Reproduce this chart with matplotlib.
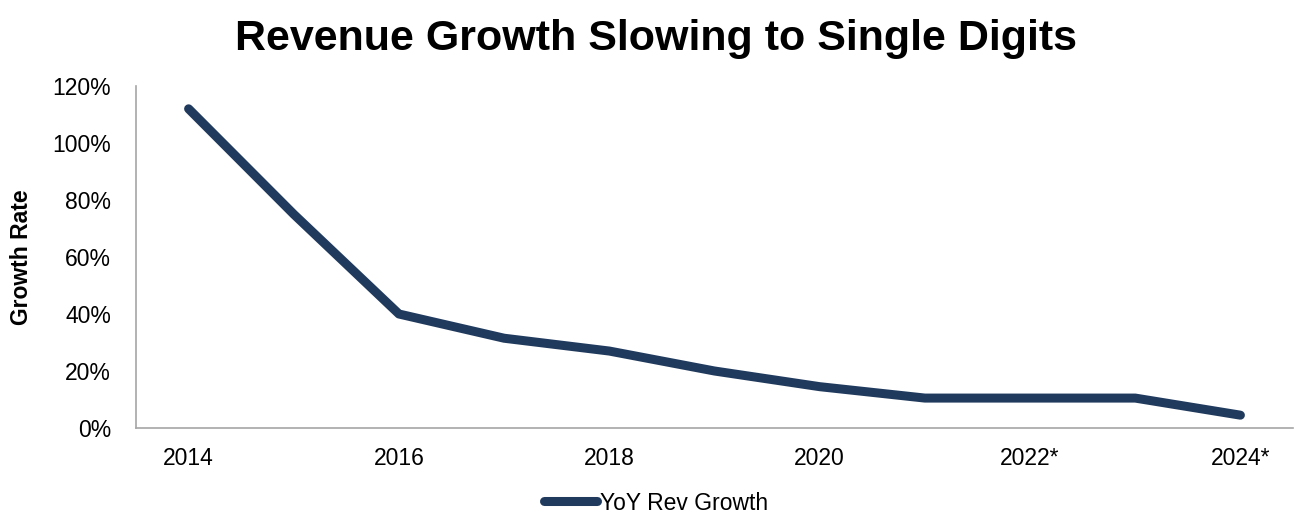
import matplotlib
matplotlib.use('Agg')
import matplotlib.pyplot as plt
from matplotlib.ticker import PercentFormatter

plt.rcParams['font.family'] = ['Liberation Sans', 'DejaVu Sans']

years = ['2014', '2015', '2016', '2017', '2018', '2019', '2020', '2021', '2022*', '2023*', '2024*']
growth = [1.12, 0.75, 0.40, 0.315, 0.27, 0.20, 0.145, 0.105, 0.105, 0.105, 0.045]
line_color = '#203a5e'

fig = plt.figure(figsize=(12.94, 5.12), dpi=100)
ax = fig.add_axes([136 / 1294, 1 - 428 / 512, (1293 - 136) / 1294, (428 - 86) / 512])

x = list(range(len(years)))
line, = ax.plot(x, growth, color=line_color, linewidth=6.5, solid_capstyle='round',
                solid_joinstyle='round', label='YoY Rev Growth')

ax.set_xlim(-0.5, len(years) - 0.5)
ax.set_ylim(0, 1.2)
ax.set_yticks([0, 0.2, 0.4, 0.6, 0.8, 1.0, 1.2])
ax.yaxis.set_major_formatter(PercentFormatter(1.0, decimals=0))
ax.set_xticks(x[::2])
ax.set_xticklabels(years[::2])
ax.tick_params(length=0, labelsize=16.5)
ax.tick_params(axis='y', pad=18)
ax.tick_params(axis='x', pad=14)

for s in ['top', 'right']:
    ax.spines[s].set_visible(False)
for s in ['left', 'bottom']:
    ax.spines[s].set_color('#a6a6a6')
    ax.spines[s].set_linewidth(1.2)

fig.text(22 / 1294, 1 - 257 / 512, 'Growth Rate', rotation=90, ha='center', va='center',
         fontsize=16.5, fontweight='bold')
fig.text(656 / 1294, 1 - 39 / 512, 'Revenue Growth Slowing to Single Digits', ha='center',
         va='center', fontsize=31, fontweight='bold')

fig.legend(handles=[line], loc='center', bbox_to_anchor=(656 / 1294, 1 - 503 / 512),
           frameon=False, fontsize=16.5, handlelength=2.3, handletextpad=0.15)

fig.savefig('out.png', dpi=100)
